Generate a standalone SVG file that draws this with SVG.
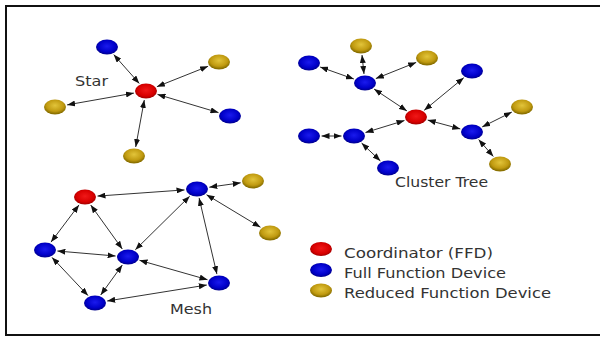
<svg xmlns="http://www.w3.org/2000/svg" width="600" height="337" viewBox="0 0 600 337">
  <style>
    .lbl { font-family: "DejaVu Sans", Verdana, sans-serif; font-size: 14px; fill: #333; }
    .link { stroke: #333; stroke-width: 1; fill: none; marker-start: url(#arr); marker-end: url(#arr); }
    .coord { fill: url(#gRed); }
    .ffd { fill: url(#gBlue); }
    .rfd { fill: url(#gGold); }
  </style>
  <defs>
    <radialGradient id="gRed" cx="50%" cy="45%" r="55%">
      <stop offset="0" stop-color="#f01818"/>
      <stop offset="0.7" stop-color="#d80000"/>
      <stop offset="1" stop-color="#a00000"/>
    </radialGradient>
    <radialGradient id="gBlue" cx="50%" cy="45%" r="55%">
      <stop offset="0" stop-color="#1a1aee"/>
      <stop offset="0.7" stop-color="#0000c8"/>
      <stop offset="1" stop-color="#00008a"/>
    </radialGradient>
    <radialGradient id="gGold" cx="50%" cy="40%" r="55%">
      <stop offset="0" stop-color="#e2c43a"/>
      <stop offset="0.7" stop-color="#c09a10"/>
      <stop offset="1" stop-color="#8a7000"/>
    </radialGradient>
    <marker id="arr" viewBox="0 0 8 6" refX="8" refY="3" markerWidth="8" markerHeight="6" markerUnits="userSpaceOnUse" orient="auto-start-reverse">
      <path d="M0,0 L8,3 L0,6 z" fill="#111"/>
    </marker>
  </defs>

  <rect x="0" y="0" width="600" height="337" fill="#fff"/>
  <!-- frame -->
  <path d="M600,6 H6 V335 H600" fill="none" stroke="#111" stroke-width="2"/>

  <g id="connectors">
    <!-- star -->
    <line class="link" x1="139.3" y1="83.5" x2="113.7" y2="54.6"/>
    <line class="link" x1="156.9" y1="86.7" x2="208.1" y2="66.3"/>
    <line class="link" x1="133.9" y1="93.1" x2="67.1" y2="104.9"/>
    <line class="link" x1="157.5" y1="94.4" x2="218.5" y2="112.6"/>
    <line class="link" x1="144.3" y1="100" x2="135.7" y2="147"/>
    <!-- cluster tree -->
    <line class="link" x1="406.9" y1="110.9" x2="374.1" y2="89.1"/>
    <line class="link" x1="424.2" y1="110.3" x2="463.8" y2="77.7"/>
    <line class="link" x1="427.7" y1="120.1" x2="460.3" y2="128.9"/>
    <line class="link" x1="404.5" y1="120.5" x2="365.5" y2="132.5"/>
    <line class="link" x1="364" y1="74" x2="362" y2="55"/>
    <line class="link" x1="353.85" y1="79" x2="320.15" y2="67"/>
    <line class="link" x1="375.8" y1="78.6" x2="416.2" y2="62.4"/>
    <line class="link" x1="341.5" y1="136" x2="321.5" y2="136"/>
    <line class="link" x1="361.6" y1="143.1" x2="380.4" y2="160.9"/>
    <line class="link" x1="482.2" y1="126.9" x2="511.8" y2="112.1"/>
    <line class="link" x1="478.6" y1="139.5" x2="493.4" y2="156.5"/>
    <!-- mesh -->
    <line class="link" x1="97.5" y1="196.1" x2="184.5" y2="189.9"/>
    <line class="link" x1="209.3" y1="187.2" x2="240.7" y2="182.8"/>
    <line class="link" x1="206.5" y1="194.7" x2="260.5" y2="227.3"/>
    <line class="link" x1="79" y1="204.9" x2="51" y2="242.1"/>
    <line class="link" x1="90.7" y1="205" x2="122.3" y2="249"/>
    <line class="link" x1="189.7" y1="196.2" x2="135.3" y2="249.8"/>
    <line class="link" x1="199.1" y1="197.9" x2="216.9" y2="274.1"/>
    <line class="link" x1="57.4" y1="251" x2="115.6" y2="256"/>
    <line class="link" x1="52" y1="257.4" x2="88" y2="295.6"/>
    <line class="link" x1="122.3" y1="265" x2="100.7" y2="295"/>
    <line class="link" x1="139.5" y1="260.3" x2="207.5" y2="279.7"/>
    <line class="link" x1="107.2" y1="301" x2="206.8" y2="285"/>
  </g>

  <!-- star topology -->
  <g id="star">
    <ellipse id="star-coord" class="coord" cx="146" cy="91" rx="11" ry="7.5"/>
    <ellipse id="star-ffd-1" class="ffd" cx="107" cy="47" rx="11" ry="7.5"/>
    <ellipse id="star-rfd-1" class="rfd" cx="219" cy="62" rx="11" ry="7.5"/>
    <ellipse id="star-rfd-2" class="rfd" cx="55" cy="107" rx="11" ry="7.5"/>
    <ellipse id="star-ffd-2" class="ffd" cx="230" cy="116" rx="11" ry="7.5"/>
    <ellipse id="star-rfd-3" class="rfd" cx="134" cy="156" rx="11" ry="7.5"/>
    <text class="lbl" x="75" y="86" textLength="33" lengthAdjust="spacingAndGlyphs">Star</text>
  </g>

  <!-- cluster tree topology -->
  <g id="cluster-tree">
    <ellipse id="ct-coord" class="coord" cx="416" cy="117" rx="11" ry="7.5"/>
    <ellipse id="ct-ffd-1" class="ffd" cx="365" cy="83" rx="11" ry="7.5"/>
    <ellipse id="ct-rfd-1" class="rfd" cx="361" cy="46" rx="11" ry="7.5"/>
    <ellipse id="ct-ffd-2" class="ffd" cx="309" cy="63" rx="11" ry="7.5"/>
    <ellipse id="ct-rfd-2" class="rfd" cx="427" cy="58" rx="11" ry="7.5"/>
    <ellipse id="ct-ffd-3" class="ffd" cx="472" cy="71" rx="11" ry="7.5"/>
    <ellipse id="ct-ffd-4" class="ffd" cx="472" cy="132" rx="11" ry="7.5"/>
    <ellipse id="ct-rfd-3" class="rfd" cx="522" cy="107" rx="11" ry="7.5"/>
    <ellipse id="ct-rfd-4" class="rfd" cx="500" cy="164" rx="11" ry="7.5"/>
    <ellipse id="ct-ffd-5" class="ffd" cx="354" cy="136" rx="11" ry="7.5"/>
    <ellipse id="ct-ffd-6" class="ffd" cx="309" cy="136" rx="11" ry="7.5"/>
    <ellipse id="ct-ffd-7" class="ffd" cx="388" cy="168" rx="11" ry="7.5"/>
    <text class="lbl" x="395" y="187" textLength="93" lengthAdjust="spacingAndGlyphs">Cluster Tree</text>
  </g>

  <!-- mesh topology -->
  <g id="mesh">
    <ellipse id="mesh-coord" class="coord" cx="85" cy="197" rx="11" ry="7.5"/>
    <ellipse id="mesh-ffd-1" class="ffd" cx="197" cy="189" rx="11" ry="7.5"/>
    <ellipse id="mesh-rfd-1" class="rfd" cx="253" cy="181" rx="11" ry="7.5"/>
    <ellipse id="mesh-rfd-2" class="rfd" cx="270" cy="233" rx="11" ry="7.5"/>
    <ellipse id="mesh-ffd-2" class="ffd" cx="45" cy="250" rx="11" ry="7.5"/>
    <ellipse id="mesh-ffd-3" class="ffd" cx="128" cy="257" rx="11" ry="7.5"/>
    <ellipse id="mesh-ffd-4" class="ffd" cx="219" cy="283" rx="11" ry="7.5"/>
    <ellipse id="mesh-ffd-5" class="ffd" cx="95" cy="303" rx="11" ry="7.5"/>
    <text class="lbl" x="170" y="314" textLength="42" lengthAdjust="spacingAndGlyphs">Mesh</text>
  </g>

  <!-- legend -->
  <g id="legend">
    <ellipse class="coord" cx="321" cy="249" rx="11" ry="7"/>
    <ellipse class="ffd" cx="321" cy="270" rx="11" ry="7"/>
    <ellipse class="rfd" cx="321" cy="290.5" rx="11" ry="7"/>
    <text class="lbl" x="344" y="257.5" textLength="149" lengthAdjust="spacingAndGlyphs">Coordinator (FFD)</text>
    <text class="lbl" x="344" y="277.5" textLength="162" lengthAdjust="spacingAndGlyphs">Full Function Device</text>
    <text class="lbl" x="344" y="297.5" textLength="207" lengthAdjust="spacingAndGlyphs">Reduced Function Device</text>
  </g>
</svg>
